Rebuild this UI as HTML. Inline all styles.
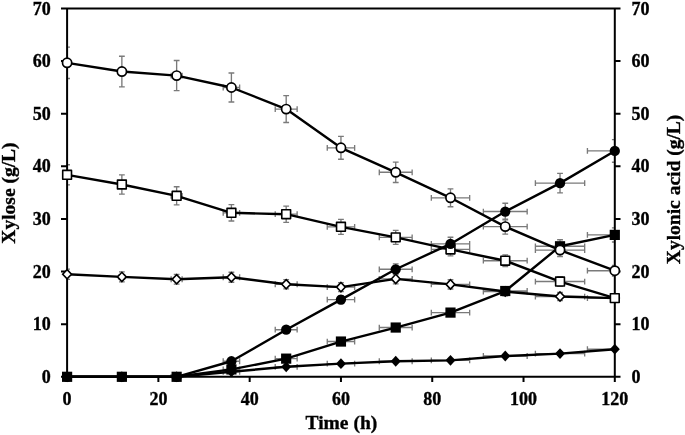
<!DOCTYPE html>
<html><head><meta charset="utf-8"><style>
html,body{margin:0;padding:0;background:#fff;}
body{width:685px;height:435px;overflow:hidden;font-family:"Liberation Serif",serif;}
svg{display:block;filter:blur(0.3px);}
</style></head><body>
<svg width="685" height="435" viewBox="0 0 685 435">
<g font-family="'Liberation Serif', serif" font-weight="bold" font-size="18" fill="#000" stroke="#000" stroke-width="0.35">
<text x="50.7" y="382.9" text-anchor="end">0</text><text x="631.4" y="382.9">0</text><text x="50.7" y="330.27" text-anchor="end">10</text><text x="631.4" y="330.27">10</text><text x="50.7" y="277.64" text-anchor="end">20</text><text x="631.4" y="277.64">20</text><text x="50.7" y="225.01" text-anchor="end">30</text><text x="631.4" y="225.01">30</text><text x="50.7" y="172.38" text-anchor="end">40</text><text x="631.4" y="172.38">40</text><text x="50.7" y="119.76" text-anchor="end">50</text><text x="631.4" y="119.76">50</text><text x="50.7" y="67.13" text-anchor="end">60</text><text x="631.4" y="67.13">60</text><text x="50.7" y="14.5" text-anchor="end">70</text><text x="631.4" y="14.5">70</text><text x="67.1" y="405.3" text-anchor="middle">0</text><text x="158.38" y="405.3" text-anchor="middle">20</text><text x="249.67" y="405.3" text-anchor="middle">40</text><text x="340.95" y="405.3" text-anchor="middle">60</text><text x="432.24" y="405.3" text-anchor="middle">80</text><text x="523.52" y="405.3" text-anchor="middle">100</text><text x="614.8" y="405.3" text-anchor="middle">120</text><text x="341.4" y="429.4" text-anchor="middle" font-size="19.5">Time (h)</text><text transform="translate(15 193.05) rotate(-90)" text-anchor="middle" font-size="19.5">Xylose (g/L)</text><text transform="translate(679.5 189.4) rotate(-90)" text-anchor="middle" font-size="19.5">Xylonic acid (g/L)</text>
</g>
<defs><clipPath id="pa"><rect x="67.1" y="8.4" width="547.7" height="368.4"/></clipPath></defs><path clip-path="url(#pa)" d="M67.1 269.1V279.35M64.2 269.1h5.8M64.2 279.35h5.8M121.87 271.92V281.9M118.97 271.92h5.8M118.97 281.9h5.8M119.13 276.91H124.61M119.13 274.01v5.8M124.61 274.01v5.8M176.64 274.35V284.1M173.74 274.35h5.8M173.74 284.1h5.8M171.16 279.23H182.12M171.16 276.33v5.8M182.12 276.33v5.8M231.41 272.25V282.2M228.51 272.25h5.8M228.51 282.2h5.8M223.2 277.23H239.63M223.2 274.33v5.8M239.63 274.33v5.8M286.18 279.6V288.85M283.28 279.6h5.8M283.28 288.85h5.8M275.23 284.23H297.14M275.23 281.33v5.8M297.14 281.33v5.8M340.95 282.64V291.6M338.05 282.64h5.8M338.05 291.6h5.8M327.26 287.12H354.64M327.26 284.22v5.8M354.64 284.22v5.8M395.72 274.02V283.8M392.82 274.02h5.8M392.82 283.8h5.8M379.29 278.91H412.15M379.29 276.01v5.8M412.15 276.01v5.8M450.49 279.76V289M447.59 279.76h5.8M447.59 289h5.8M431.32 284.38H469.66M431.32 281.48v5.8M469.66 281.48v5.8M505.26 287.28V295.8M502.36 287.28h5.8M502.36 295.8h5.8M483.36 291.54H527.17M483.36 288.64v5.8M527.17 288.64v5.8M560.03 292.53V300.55M557.13 292.53h5.8M557.13 300.55h5.8M535.39 296.54H584.68M535.39 293.64v5.8M584.68 293.64v5.8M614.8 294.19V302.05M611.9 294.19h5.8M611.9 302.05h5.8M587.42 298.12H614.8M587.42 295.22v5.8M67.1 164.71V184.91M64.2 164.71h5.8M64.2 184.91h5.8M121.87 174.88V194.11M118.97 174.88h5.8M118.97 194.11h5.8M119.13 184.49H124.61M119.13 181.59v5.8M124.61 181.59v5.8M176.64 186.76V204.86M173.74 186.76h5.8M173.74 204.86h5.8M171.16 195.81H182.12M171.16 192.91v5.8M182.12 192.91v5.8M231.41 204.61V221.01M228.51 204.61h5.8M228.51 221.01h5.8M223.2 212.81H239.63M223.2 209.91v5.8M239.63 209.91v5.8M286.18 206.05V222.31M283.28 206.05h5.8M283.28 222.31h5.8M275.23 214.18H297.14M275.23 211.28v5.8M297.14 211.28v5.8M340.95 219.31V234.31M338.05 219.31h5.8M338.05 234.31h5.8M327.26 226.81H354.64M327.26 223.91v5.8M354.64 223.91v5.8M395.72 230.36V244.31M392.82 230.36h5.8M392.82 244.31h5.8M379.29 237.33H412.15M379.29 234.43v5.8M412.15 234.43v5.8M450.49 243.07V255.81M447.59 243.07h5.8M447.59 255.81h5.8M431.32 249.44H469.66M431.32 246.54v5.8M469.66 246.54v5.8M505.26 254.9V266.51M502.36 254.9h5.8M502.36 266.51h5.8M483.36 260.7H527.17M483.36 257.8v5.8M527.17 257.8v5.8M560.03 276.78V286.3M557.13 276.78h5.8M557.13 286.3h5.8M535.39 281.54H584.68M535.39 278.64v5.8M584.68 278.64v5.8M614.8 294.19V302.05M611.9 294.19h5.8M611.9 302.05h5.8M587.42 298.12H614.8M587.42 295.22v5.8M119.13 376.8H124.61M119.13 373.9v5.8M124.61 373.9v5.8M171.16 376.8H182.12M171.16 373.9v5.8M182.12 373.9v5.8M223.2 371.8H239.63M223.2 368.9v5.8M239.63 368.9v5.8M286.18 366.3V367.3M283.28 366.3h5.8M283.28 367.3h5.8M275.23 366.8H297.14M275.23 363.9v5.8M297.14 363.9v5.8M340.95 362.98V364.3M338.05 362.98h5.8M338.05 364.3h5.8M327.26 363.64H354.64M327.26 360.74v5.8M354.64 360.74v5.8M395.72 360.5V362.05M392.82 360.5h5.8M392.82 362.05h5.8M379.29 361.27H412.15M379.29 358.37v5.8M412.15 358.37v5.8M450.49 359.5V361.15M447.59 359.5h5.8M447.59 361.15h5.8M431.32 360.33H469.66M431.32 357.43v5.8M469.66 357.43v5.8M505.26 354.97V357.05M502.36 354.97h5.8M502.36 357.05h5.8M483.36 356.01H527.17M483.36 353.11v5.8M527.17 353.11v5.8M560.03 352.43V354.75M557.13 352.43h5.8M557.13 354.75h5.8M535.39 353.59H584.68M535.39 350.69v5.8M584.68 350.69v5.8M614.8 347.84V350.6M611.9 347.84h5.8M611.9 350.6h5.8M587.42 349.22H614.8M587.42 346.32v5.8M119.13 376.8H124.61M119.13 373.9v5.8M124.61 373.9v5.8M171.16 376.8H182.12M171.16 373.9v5.8M182.12 373.9v5.8M231.41 360.5V362.05M228.51 360.5h5.8M228.51 362.05h5.8M223.2 361.27H239.63M223.2 358.37v5.8M239.63 358.37v5.8M286.18 327.34V332.05M283.28 327.34h5.8M283.28 332.05h5.8M275.23 329.7H297.14M275.23 326.8v5.8M297.14 326.8v5.8M340.95 295.73V303.45M338.05 295.73h5.8M338.05 303.45h5.8M327.26 299.59H354.64M327.26 296.69v5.8M354.64 296.69v5.8M395.72 263.9V274.66M392.82 263.9h5.8M392.82 274.66h5.8M379.29 269.28H412.15M379.29 266.38v5.8M412.15 266.38v5.8M450.49 237.27V250.56M447.59 237.27h5.8M447.59 250.56h5.8M431.32 243.91H469.66M431.32 241.01v5.8M469.66 241.01v5.8M505.26 203.28V219.81M502.36 203.28h5.8M502.36 219.81h5.8M483.36 211.54H527.17M483.36 208.64v5.8M527.17 208.64v5.8M560.03 173.44V192.81M557.13 173.44h5.8M557.13 192.81h5.8M535.39 183.13H584.68M535.39 180.23v5.8M584.68 180.23v5.8M614.8 139.62V162.21M611.9 139.62h5.8M611.9 162.21h5.8M587.42 150.92H614.8M587.42 148.02v5.8M119.13 376.8H124.61M119.13 373.9v5.8M124.61 373.9v5.8M171.16 376.8H182.12M171.16 373.9v5.8M182.12 373.9v5.8M231.41 369.06V369.8M228.51 369.06h5.8M228.51 369.8h5.8M223.2 369.43H239.63M223.2 366.53v5.8M239.63 366.53v5.8M286.18 357.74V359.55M283.28 357.74h5.8M283.28 359.55h5.8M275.23 358.64H297.14M275.23 355.74v5.8M297.14 355.74v5.8M340.95 339.78V343.3M338.05 339.78h5.8M338.05 343.3h5.8M327.26 341.54H354.64M327.26 338.64v5.8M354.64 338.64v5.8M395.72 325.08V330M392.82 325.08h5.8M392.82 330h5.8M379.29 327.54H412.15M379.29 324.64v5.8M412.15 324.64v5.8M450.49 309.38V315.8M447.59 309.38h5.8M447.59 315.8h5.8M431.32 312.59H469.66M431.32 309.69v5.8M469.66 309.69v5.8M505.26 286.73V295.3M502.36 286.73h5.8M502.36 295.3h5.8M483.36 291.01H527.17M483.36 288.11v5.8M527.17 288.11v5.8M560.03 239.75V252.81M557.13 239.75h5.8M557.13 252.81h5.8M535.39 246.28H584.68M535.39 243.38v5.8M584.68 243.38v5.8M614.8 227.82V242.01M611.9 227.82h5.8M611.9 242.01h5.8M587.42 234.91H614.8M587.42 232.01v5.8M67.1 47.12V78.51M64.2 47.12h5.8M64.2 78.51h5.8M121.87 56.29V86.81M118.97 56.29h5.8M118.97 86.81h5.8M119.13 71.55H124.61M119.13 68.65v5.8M124.61 68.65v5.8M176.64 60.54V90.66M173.74 60.54h5.8M173.74 90.66h5.8M171.16 75.6H182.12M171.16 72.7v5.8M182.12 72.7v5.8M231.41 73.03V101.96M228.51 73.03h5.8M228.51 101.96h5.8M223.2 87.5H239.63M223.2 84.6v5.8M239.63 84.6v5.8M286.18 95.69V122.46M283.28 95.69h5.8M283.28 122.46h5.8M275.23 109.08H297.14M275.23 106.18v5.8M297.14 106.18v5.8M340.95 136.36V159.26M338.05 136.36h5.8M338.05 159.26h5.8M327.26 147.81H354.64M327.26 144.91v5.8M354.64 144.91v5.8M395.72 162.06V182.51M392.82 162.06h5.8M392.82 182.51h5.8M379.29 172.28H412.15M379.29 169.38v5.8M412.15 169.38v5.8M450.49 188.86V206.76M447.59 188.86h5.8M447.59 206.76h5.8M431.32 197.81H469.66M431.32 194.91v5.8M469.66 194.91v5.8M505.26 219.09V234.11M502.36 219.09h5.8M502.36 234.11h5.8M483.36 226.6H527.17M483.36 223.7v5.8M527.17 223.7v5.8M560.03 243.79V256.46M557.13 243.79h5.8M557.13 256.46h5.8M535.39 250.12H584.68M535.39 247.22v5.8M584.68 247.22v5.8M614.8 265.39V276M611.9 265.39h5.8M611.9 276h5.8M587.42 270.7H614.8M587.42 267.8v5.8" stroke="#7a7a7a" stroke-width="1.35" fill="none"/>
<path d="M61 8.4H620.5M61 376.8H620.5M67.1 8.4V376.8M614.8 8.4V376.8M61 376.8H67.1M614.8 376.8H620.5M61 324.17H67.1M614.8 324.17H620.5M61 271.54H67.1M614.8 271.54H620.5M61 218.91H67.1M614.8 218.91H620.5M61 166.28H67.1M614.8 166.28H620.5M61 113.66H67.1M614.8 113.66H620.5M61 61.03H67.1M614.8 61.03H620.5M61 8.4H67.1M614.8 8.4H620.5M67.1 376.8V382M158.38 376.8V382M249.67 376.8V382M340.95 376.8V382M432.24 376.8V382M523.52 376.8V382M614.8 376.8V382" stroke="#000" stroke-width="2" fill="none" stroke-linecap="butt"/>
<polyline points="67.1,274.23 121.87,276.91 176.64,279.23 231.41,277.23 286.18,284.23 340.95,287.12 395.72,278.91 450.49,284.38 505.26,291.54 560.03,296.54 614.8,298.12" fill="none" stroke="#000" stroke-width="2.4" stroke-linejoin="round"/><path d="M67.1 269.63L71.5 274.23L67.1 278.83L62.7 274.23Z" fill="#fff" stroke="#000" stroke-width="1.6"/><path d="M121.87 272.31L126.27 276.91L121.87 281.51L117.47 276.91Z" fill="#fff" stroke="#000" stroke-width="1.6"/><path d="M176.64 274.63L181.04 279.23L176.64 283.83L172.24 279.23Z" fill="#fff" stroke="#000" stroke-width="1.6"/><path d="M231.41 272.63L235.81 277.23L231.41 281.83L227.01 277.23Z" fill="#fff" stroke="#000" stroke-width="1.6"/><path d="M286.18 279.63L290.58 284.23L286.18 288.83L281.78 284.23Z" fill="#fff" stroke="#000" stroke-width="1.6"/><path d="M340.95 282.52L345.35 287.12L340.95 291.72L336.55 287.12Z" fill="#fff" stroke="#000" stroke-width="1.6"/><path d="M395.72 274.31L400.12 278.91L395.72 283.51L391.32 278.91Z" fill="#fff" stroke="#000" stroke-width="1.6"/><path d="M450.49 279.78L454.89 284.38L450.49 288.98L446.09 284.38Z" fill="#fff" stroke="#000" stroke-width="1.6"/><path d="M505.26 286.94L509.66 291.54L505.26 296.14L500.86 291.54Z" fill="#fff" stroke="#000" stroke-width="1.6"/><path d="M560.03 291.94L564.43 296.54L560.03 301.14L555.63 296.54Z" fill="#fff" stroke="#000" stroke-width="1.6"/><path d="M614.8 293.52L619.2 298.12L614.8 302.72L610.4 298.12Z" fill="#fff" stroke="#000" stroke-width="1.6"/><polyline points="67.1,174.81 121.87,184.49 176.64,195.81 231.41,212.81 286.18,214.18 340.95,226.81 395.72,237.33 450.49,249.44 505.26,260.7 560.03,281.54 614.8,298.12" fill="none" stroke="#000" stroke-width="2.4" stroke-linejoin="round"/><rect x="62.7" y="170.41" width="8.8" height="8.8" fill="#fff" stroke="#000" stroke-width="1.6" stroke-linejoin="round"/><rect x="117.47" y="180.09" width="8.8" height="8.8" fill="#fff" stroke="#000" stroke-width="1.6" stroke-linejoin="round"/><rect x="172.24" y="191.41" width="8.8" height="8.8" fill="#fff" stroke="#000" stroke-width="1.6" stroke-linejoin="round"/><rect x="227.01" y="208.41" width="8.8" height="8.8" fill="#fff" stroke="#000" stroke-width="1.6" stroke-linejoin="round"/><rect x="281.78" y="209.78" width="8.8" height="8.8" fill="#fff" stroke="#000" stroke-width="1.6" stroke-linejoin="round"/><rect x="336.55" y="222.41" width="8.8" height="8.8" fill="#fff" stroke="#000" stroke-width="1.6" stroke-linejoin="round"/><rect x="391.32" y="232.93" width="8.8" height="8.8" fill="#fff" stroke="#000" stroke-width="1.6" stroke-linejoin="round"/><rect x="446.09" y="245.04" width="8.8" height="8.8" fill="#fff" stroke="#000" stroke-width="1.6" stroke-linejoin="round"/><rect x="500.86" y="256.3" width="8.8" height="8.8" fill="#fff" stroke="#000" stroke-width="1.6" stroke-linejoin="round"/><rect x="555.63" y="277.14" width="8.8" height="8.8" fill="#fff" stroke="#000" stroke-width="1.6" stroke-linejoin="round"/><rect x="610.4" y="293.72" width="8.8" height="8.8" fill="#fff" stroke="#000" stroke-width="1.6" stroke-linejoin="round"/><polyline points="67.1,376.8 121.87,376.8 176.64,376.8 231.41,371.8 286.18,366.8 340.95,363.64 395.72,361.27 450.49,360.33 505.26,356.01 560.03,353.59 614.8,349.22" fill="none" stroke="#000" stroke-width="2.4" stroke-linejoin="round"/><path d="M67.1 371.4L72.1 376.8L67.1 382.2L62.1 376.8Z" fill="#000"/><path d="M121.87 371.4L126.87 376.8L121.87 382.2L116.87 376.8Z" fill="#000"/><path d="M176.64 371.4L181.64 376.8L176.64 382.2L171.64 376.8Z" fill="#000"/><path d="M231.41 366.4L236.41 371.8L231.41 377.2L226.41 371.8Z" fill="#000"/><path d="M286.18 361.4L291.18 366.8L286.18 372.2L281.18 366.8Z" fill="#000"/><path d="M340.95 358.24L345.95 363.64L340.95 369.04L335.95 363.64Z" fill="#000"/><path d="M395.72 355.87L400.72 361.27L395.72 366.67L390.72 361.27Z" fill="#000"/><path d="M450.49 354.93L455.49 360.33L450.49 365.73L445.49 360.33Z" fill="#000"/><path d="M505.26 350.61L510.26 356.01L505.26 361.41L500.26 356.01Z" fill="#000"/><path d="M560.03 348.19L565.03 353.59L560.03 358.99L555.03 353.59Z" fill="#000"/><path d="M614.8 343.82L619.8 349.22L614.8 354.62L609.8 349.22Z" fill="#000"/><polyline points="67.1,376.8 121.87,376.8 176.64,376.8 231.41,361.27 286.18,329.7 340.95,299.59 395.72,269.28 450.49,243.91 505.26,211.54 560.03,183.13 614.8,150.92" fill="none" stroke="#000" stroke-width="2.4" stroke-linejoin="round"/><circle cx="67.1" cy="376.8" r="5.15" fill="#000"/><circle cx="121.87" cy="376.8" r="5.15" fill="#000"/><circle cx="176.64" cy="376.8" r="5.15" fill="#000"/><circle cx="231.41" cy="361.27" r="5.15" fill="#000"/><circle cx="286.18" cy="329.7" r="5.15" fill="#000"/><circle cx="340.95" cy="299.59" r="5.15" fill="#000"/><circle cx="395.72" cy="269.28" r="5.15" fill="#000"/><circle cx="450.49" cy="243.91" r="5.15" fill="#000"/><circle cx="505.26" cy="211.54" r="5.15" fill="#000"/><circle cx="560.03" cy="183.13" r="5.15" fill="#000"/><circle cx="614.8" cy="150.92" r="5.15" fill="#000"/><polyline points="67.1,376.8 121.87,376.8 176.64,376.8 231.41,369.43 286.18,358.64 340.95,341.54 395.72,327.54 450.49,312.59 505.26,291.01 560.03,246.28 614.8,234.91" fill="none" stroke="#000" stroke-width="2.4" stroke-linejoin="round"/><rect x="62" y="371.7" width="10.2" height="10.2" fill="#000"/><rect x="116.77" y="371.7" width="10.2" height="10.2" fill="#000"/><rect x="171.54" y="371.7" width="10.2" height="10.2" fill="#000"/><rect x="226.31" y="364.33" width="10.2" height="10.2" fill="#000"/><rect x="281.08" y="353.54" width="10.2" height="10.2" fill="#000"/><rect x="335.85" y="336.44" width="10.2" height="10.2" fill="#000"/><rect x="390.62" y="322.44" width="10.2" height="10.2" fill="#000"/><rect x="445.39" y="307.49" width="10.2" height="10.2" fill="#000"/><rect x="500.16" y="285.91" width="10.2" height="10.2" fill="#000"/><rect x="554.93" y="241.18" width="10.2" height="10.2" fill="#000"/><rect x="609.7" y="229.81" width="10.2" height="10.2" fill="#000"/><polyline points="67.1,62.82 121.87,71.55 176.64,75.6 231.41,87.5 286.18,109.08 340.95,147.81 395.72,172.28 450.49,197.81 505.26,226.6 560.03,250.12 614.8,270.7" fill="none" stroke="#000" stroke-width="2.4" stroke-linejoin="round"/><circle cx="67.1" cy="62.82" r="4.6" fill="#fff" stroke="#000" stroke-width="1.7"/><circle cx="121.87" cy="71.55" r="4.6" fill="#fff" stroke="#000" stroke-width="1.7"/><circle cx="176.64" cy="75.6" r="4.6" fill="#fff" stroke="#000" stroke-width="1.7"/><circle cx="231.41" cy="87.5" r="4.6" fill="#fff" stroke="#000" stroke-width="1.7"/><circle cx="286.18" cy="109.08" r="4.6" fill="#fff" stroke="#000" stroke-width="1.7"/><circle cx="340.95" cy="147.81" r="4.6" fill="#fff" stroke="#000" stroke-width="1.7"/><circle cx="395.72" cy="172.28" r="4.6" fill="#fff" stroke="#000" stroke-width="1.7"/><circle cx="450.49" cy="197.81" r="4.6" fill="#fff" stroke="#000" stroke-width="1.7"/><circle cx="505.26" cy="226.6" r="4.6" fill="#fff" stroke="#000" stroke-width="1.7"/><circle cx="560.03" cy="250.12" r="4.6" fill="#fff" stroke="#000" stroke-width="1.7"/><circle cx="614.8" cy="270.7" r="4.6" fill="#fff" stroke="#000" stroke-width="1.7"/>
</svg>
</body></html>
